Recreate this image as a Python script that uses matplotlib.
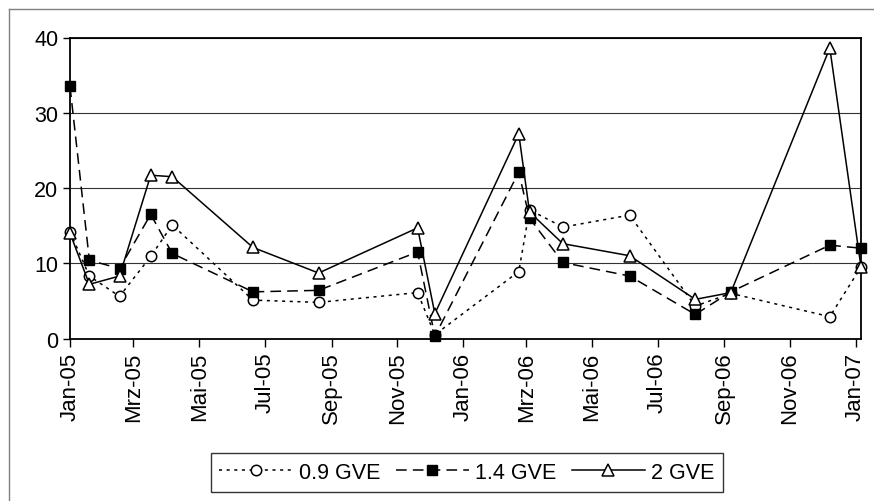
import numpy as np
import pandas as pd
import matplotlib
matplotlib.use("Agg")
import matplotlib.pyplot as plt
import matplotlib.dates as mdates
from matplotlib.lines import Line2D

plt.rcParams['font.family'] = ['Liberation Sans', 'DejaVu Sans']

# Messdaten
dates = ['2005-01-01', '2005-01-19', '2005-02-16', '2005-03-17', '2005-04-06',
         '2005-06-20', '2005-08-20', '2005-11-20', '2005-12-06', '2006-02-22',
         '2006-03-04', '2006-04-04', '2006-06-05', '2006-08-05', '2006-09-07',
         '2006-12-08', '2007-01-06']
gve_09 = [14.2, 8.3, 5.6, 10.9, 15.1, 5.1, 4.8, 6.1, 0.5, 8.9,
          17.1, 14.8, 16.4, 4.3, 6.0, 2.9, 9.5]
gve_14 = [33.5, 10.4, 9.3, 16.5, 11.3, 6.2, 6.4, 11.5, 0.3, 22.1,
          16.0, 10.1, 8.3, 3.2, 6.2, 12.4, 12.0]
gve_2 = [14.0, 7.2, 8.3, 21.7, 21.5, 12.1, 8.7, 14.7, 3.3, 27.2,
         16.8, 12.6, 11.0, 5.2, 6.1, 38.6, 9.5]
labels = ['0.9 GVE', '1.4 GVE', '2 GVE']
month_names = {1: 'Jan', 3: 'Mrz', 5: 'Mai', 7: 'Jul', 9: 'Sep', 11: 'Nov'}

x = pd.to_datetime(dates)

W, H = 874, 502
fig = plt.figure(figsize=(W / 100, H / 100), dpi=100)
ax = fig.add_axes([70 / W, (H - 339.5) / H, (861 - 70) / W, (339.5 - 38.5) / H])

lw = 1.1
ax.plot(x, gve_09, linestyle=(0, (2, 3)), color='black', lw=lw, marker='o',
        markersize=7.5, markerfacecolor='white', markeredgecolor='black',
        markeredgewidth=1.1, clip_on=False, label=labels[0], zorder=3)
ax.plot(x, gve_14, linestyle=(0, (7, 4)), color='black', lw=lw, marker='s',
        markersize=7.5, markerfacecolor='black', markeredgecolor='black',
        clip_on=False, label=labels[1], zorder=4)
ax.plot(x, gve_2, linestyle='-', color='black', lw=lw, marker='^',
        markersize=8.5, markerfacecolor='white', markeredgecolor='black',
        markeredgewidth=1.1, clip_on=False, label=labels[2], zorder=5)

ax.set_ylim(0, 40)
ax.set_yticks([0, 10, 20, 30, 40])
ax.set_xlim(pd.Timestamp('2005-01-01'), x[-1])
ax.grid(axis='y', color='#333333', lw=0.8)
ax.set_axisbelow(True)

ax.xaxis.set_major_locator(mdates.MonthLocator(bymonth=[1, 3, 5, 7, 9, 11]))
ax.xaxis.set_major_formatter(plt.FuncFormatter(
    lambda v, p: f"{month_names[mdates.num2date(v).month]}-{mdates.num2date(v).year % 100:02d}"))
ax.tick_params(axis='x', labelrotation=90, labelsize=16, length=6, width=1, direction='out')
ax.tick_params(axis='y', labelsize=15.5, length=5, width=1, direction='out')

for s in ax.spines.values():
    s.set_linewidth(1.3)
    s.set_color('black')

leg = fig.legend(loc='center', bbox_to_anchor=(467 / W, 1 - 473.5 / H), ncol=3,
                 fontsize=15.5, frameon=True, fancybox=False, numpoints=1,
                 handlelength=3.4, handletextpad=0.3, columnspacing=0.7,
                 borderpad=0.4)
leg.get_frame().set_edgecolor('black')
leg.get_frame().set_linewidth(1.0)

# grauer Rahmen um das Diagramm
fig.add_artist(Line2D([9 / W, 9 / W], [0, 1 - 10 / H], transform=fig.transFigure,
                      color='#808080', lw=1))
fig.add_artist(Line2D([9 / W, 1], [1 - 10 / H, 1 - 10 / H], transform=fig.transFigure,
                      color='#808080', lw=1))

fig.savefig('out.png', dpi=100)
